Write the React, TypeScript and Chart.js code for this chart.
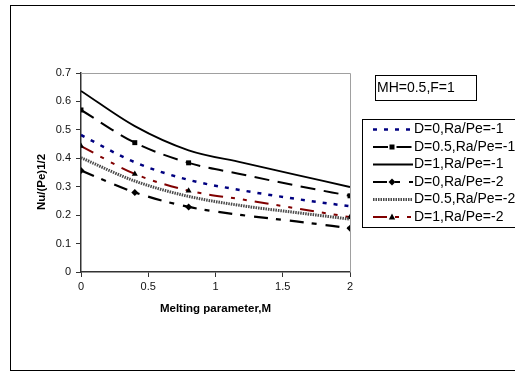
import { useEffect, useRef } from "react";
import { Chart, registerables } from "chart.js";

Chart.register(...registerables);

// ---- data ----
const meltingM = [0, 0.4, 0.8, 1.2, 1.6, 2];
const seriesNames = [
  "D=0,Ra/Pe=-1",
  "D=0.5,Ra/Pe=-1",
  "D=1,Ra/Pe=-1",
  "D=0,Ra/Pe=-2",
  "D=0.5,Ra/Pe=-2",
  "D=1,Ra/Pe=-2",
];
const d0RaM1 = [0.482, 0.386, 0.324, 0.287, 0.257, 0.231];
const d05RaM1 = [0.57, 0.455, 0.384, 0.343, 0.304, 0.268];
const d1RaM1 = [0.637, 0.513, 0.428, 0.385, 0.342, 0.299];
const d0RaM2 = [0.357, 0.28, 0.229, 0.2, 0.178, 0.154];
const d05RaM2 = [0.402, 0.32, 0.266, 0.233, 0.209, 0.186];
const d1RaM2 = [0.443, 0.345, 0.286, 0.255, 0.224, 0.193];
const yTickValues = [0, 0.1, 0.2, 0.3, 0.4, 0.5, 0.6, 0.7];
const xTickValues = [0, 0.5, 1, 1.5, 2];
const xTitle = "Melting parameter,M";
const yTitle = "Nu/(Pe)1/2";
const noteText = "MH=0.5,F=1";

const FONT = '"Liberation Sans", Arial, sans-serif';

type Style = {
  color: string;
  dash: number[];
  width: number;
  marker: string | null;
};

const styles: Style[] = [
  { color: "#000080", dash: [4, 7], width: 2.5, marker: null },
  { color: "#000000", dash: [15, 8.5], width: 2, marker: "rect" },
  { color: "#000000", dash: [], width: 1.8, marker: null },
  { color: "#000000", dash: [14, 8, 5, 9], width: 2.2, marker: "rectRot" },
  { color: "#4a4a4a", dash: [1.5, 1], width: 3, marker: null },
  { color: "#800000", dash: [14, 8, 4, 8, 4, 8], width: 2, marker: "triangle" },
];

const allSeries = [d0RaM1, d05RaM1, d1RaM1, d0RaM2, d05RaM2, d1RaM2];

function drawMarker(ctx: CanvasRenderingContext2D, kind: string, x: number, y: number) {
  ctx.save();
  ctx.fillStyle = "#000";
  ctx.setLineDash([]);
  ctx.beginPath();
  if (kind === "rect") {
    ctx.rect(x - 2.5, y - 2.5, 5, 5);
  } else if (kind === "rectRot") {
    ctx.moveTo(x, y - 3.5);
    ctx.lineTo(x + 3.5, y);
    ctx.lineTo(x, y + 3.5);
    ctx.lineTo(x - 3.5, y);
    ctx.closePath();
  } else if (kind === "triangle") {
    ctx.moveTo(x, y - 3.5);
    ctx.lineTo(x + 3.2, y + 2.5);
    ctx.lineTo(x - 3.2, y + 2.5);
    ctx.closePath();
  }
  ctx.fill();
  ctx.restore();
}

const decorPlugin = {
  id: "decor",
  beforeDraw(chart: any) {
    const ctx = chart.ctx as CanvasRenderingContext2D;
    ctx.save();
    ctx.fillStyle = "#fff";
    ctx.fillRect(0, 0, chart.width, chart.height);
    ctx.strokeStyle = "#000";
    ctx.lineWidth = 1;
    ctx.strokeRect(10.5, 5.5, 530, 365);
    ctx.restore();
  },
  beforeDatasetsDraw(chart: any) {
    const ctx = chart.ctx as CanvasRenderingContext2D;
    const a = chart.chartArea;
    ctx.save();
    ctx.strokeStyle = "#a0a0a0";
    ctx.lineWidth = 1;
    ctx.beginPath();
    ctx.moveTo(a.left, a.top + 0.5);
    ctx.lineTo(a.right + 0.5, a.top + 0.5);
    ctx.lineTo(a.right + 0.5, a.bottom);
    ctx.stroke();
    ctx.restore();
  },
  afterDraw(chart: any) {
    const ctx = chart.ctx as CanvasRenderingContext2D;
    const a = chart.chartArea;
    ctx.save();
    // axis titles
    ctx.fillStyle = "#000";
    ctx.font = `bold 11.5px ${FONT}`;
    ctx.textAlign = "center";
    ctx.textBaseline = "middle";
    ctx.fillText(xTitle, (a.left + a.right) / 2, 309);
    ctx.save();
    ctx.translate(42, 182);
    ctx.rotate(-Math.PI / 2);
    ctx.fillText(yTitle, 0, 0);
    ctx.restore();

    // note box
    ctx.strokeStyle = "#000";
    ctx.lineWidth = 1;
    ctx.strokeRect(375.5, 75.5, 101, 25);
    ctx.font = `14px ${FONT}`;
    ctx.textAlign = "left";
    ctx.fillText(noteText, 377, 88);

    // legend
    ctx.strokeStyle = "#000";
    ctx.strokeRect(362.5, 119.5, 170, 108);
    const datasets = chart.data.datasets;
    datasets.forEach((ds: any, i: number) => {
      const y = 129.5 + i * 17.5;
      const st = styles[i];
      ctx.save();
      ctx.strokeStyle = st.color;
      ctx.lineWidth = st.width;
      ctx.setLineDash(st.dash);
      ctx.beginPath();
      ctx.moveTo(373, y);
      ctx.lineTo(413, y);
      ctx.stroke();
      ctx.restore();
      if (st.marker) drawMarker(ctx, st.marker, 392, y);
      ctx.fillStyle = "#000";
      ctx.font = `14px ${FONT}`;
      ctx.textAlign = "left";
      ctx.textBaseline = "middle";
      ctx.fillText(ds.label, 414, y);
    });
    ctx.restore();
  },
};

export default function App() {
  const ref = useRef<HTMLCanvasElement | null>(null);
  useEffect(() => {
    if (!ref.current) return;
    const datasets = allSeries.map((vals, i) => {
      const st = styles[i];
      return {
        label: seriesNames[i],
        data: vals.map((v, j) => ({ x: meltingM[j], y: v })),
        borderColor: st.color,
        borderWidth: st.width,
        borderDash: st.dash,
        backgroundColor: "#000",
        pointBackgroundColor: "#000",
        pointBorderColor: "#000",
        pointBorderWidth: 0,
        pointStyle: st.marker || "circle",
        pointRadius: (c: any) =>
          st.marker && c.dataIndex !== 3 && c.dataIndex !== 4 ? 3.5 : 0,
        pointHoverRadius: 0,
        fill: false,
        cubicInterpolationMode: "monotone" as const,
      };
    });
    const chart = new Chart(ref.current, {
      type: "line",
      data: { datasets },
      options: {
        animation: false,
        responsive: false,
        events: [],
        layout: { padding: { top: 73, right: 165, left: 0, bottom: 0 } },
        plugins: { legend: { display: false }, tooltip: { enabled: false } },
        scales: {
          x: {
            type: "linear",
            min: 0,
            max: 2,
            afterFit: (s: any) => {
              s.height = 100;
            },
            afterBuildTicks: (s: any) => {
              s.ticks = xTickValues.map((v) => ({ value: v }));
            },
            ticks: {
              color: "#111",
              font: { family: FONT, size: 11 },
              padding: 3,
              maxRotation: 0,
              callback: (v: any) => String(v),
            },
            grid: {
              drawOnChartArea: false,
              drawTicks: true,
              tickLength: 5,
              color: "#333",
            },
            border: { color: "#333", width: 1.5 },
          },
          y: {
            type: "linear",
            min: 0,
            max: 0.7,
            afterFit: (s: any) => {
              s.width = 81;
            },
            afterBuildTicks: (s: any) => {
              s.ticks = yTickValues.map((v) => ({ value: v }));
            },
            ticks: {
              color: "#111",
              font: { family: FONT, size: 11 },
              padding: 5,
              callback: (v: any) => String(Math.round(v * 10) / 10),
            },
            grid: {
              drawOnChartArea: false,
              drawTicks: true,
              tickLength: 5,
              color: "#333",
            },
            border: { color: "#333", width: 1.5 },
          },
        },
      },
      plugins: [decorPlugin],
    });
    return () => chart.destroy();
  }, []);
  return (
    <div style={{ position: "absolute", left: 0, top: 0, width: 515, height: 372 }}>
      <canvas ref={ref} width={515} height={372} style={{ display: "block" }} />
    </div>
  );
}
